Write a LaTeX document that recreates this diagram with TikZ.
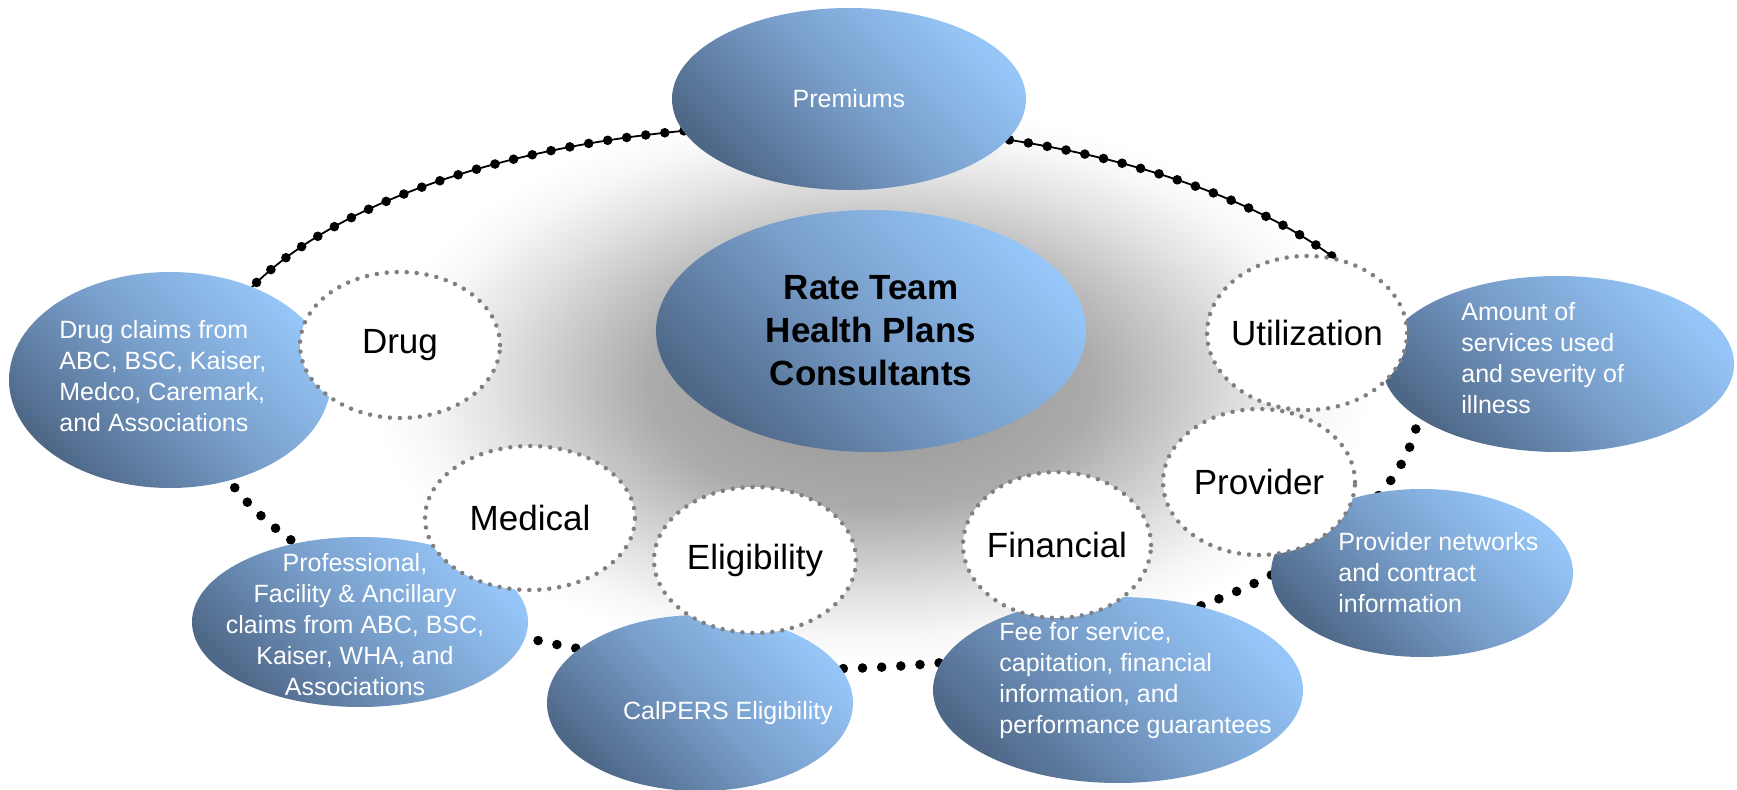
\documentclass[tikz,border=0pt]{standalone}
\usepackage{fontspec}
\setmainfont{Liberation Sans}
\usetikzlibrary{shapes.geometric}

\definecolor{skyL}{RGB}{150,198,248}
\definecolor{skyM}{RGB}{120,158,202}
\definecolor{slateD}{RGB}{78,103,135}
\definecolor{dotgray}{RGB}{128,128,128}
\pgfdeclareradialshading{halo}{\pgfpoint{0bp}{0bp}}{color(0bp)=(black!42); color(11bp)=(black!33); color(15bp)=(black!22); color(19bp)=(black!11); color(22.5bp)=(black!3); color(25bp)=(white); color(50bp)=(white)}

\begin{document}
\begin{tikzpicture}[x=0.5pt,y=-0.5pt,
  blob/.style={ellipse,inner sep=0pt,top color=skyL,bottom color=slateD,middle color=skyM,shading angle=-45},
  topic/.style={ellipse,inner sep=-4pt,fill=white,draw=dotgray,line width=2.25pt,dash pattern=on 0pt off 5pt,line cap=round,font=\fontsize{17.5}{21}\selectfont},
  note/.style={text=white,inner sep=0pt,font=\fontsize{12.5}{15.5}\selectfont}]
\path[use as bounding box,fill=white] (0,0) rectangle (1737,790);
\shade[shading=halo] (871,385) ellipse [x radius=250pt,y radius=140pt];
\coordinate (ring) at (810,397);
\draw[line width=0.9pt,yshift=-2.5pt] (ring) ++(158:305pt and 136pt) arc [start angle=158,end angle=30,x radius=305pt,y radius=136pt];
\draw[line width=4.8pt,dash pattern=on 0pt off 9.6pt,line cap=round] (ring) ellipse [x radius=305pt,y radius=136pt];
\node[blob,minimum width=215pt,minimum height=121pt,align=center,font=\fontsize{17.5}{21.5}\selectfont\bfseries] (core) at (871,331) {Rate Team\\Health Plans\\Consultants};
\node[blob,note,minimum width=177pt,minimum height=91pt] (premiums) at (849,99) {Premiums};
\node[blob,minimum width=161pt,minimum height=108pt] (drugclaims) at (170,380) {};
\node[blob,minimum width=168pt,minimum height=85pt] (profclaims) at (360,622) {};
\node[blob,minimum width=153pt,minimum height=88pt] (calpers) at (700,703) {};
\node[blob,minimum width=185pt,minimum height=93pt] (fees) at (1118,690) {};
\node[blob,minimum width=151pt,minimum height=84pt] (networks) at (1422,573) {};
\node[blob,minimum width=176pt,minimum height=88pt] (amount) at (1558,364) {};
\node[note,align=left,anchor=west] (drugtxt) at (59,376) {Drug claims from\\ABC, BSC, Kaiser,\\Medco, Caremark,\\and Associations};
\node[note,align=center] (proftxt) at (355,625) {Professional,\\Facility \& Ancillary\\claims from ABC, BSC,\\Kaiser, WHA, and\\Associations};
\node[note] (calperstxt) at (728,713) {CalPERS Eligibility};
\node[note,align=left,anchor=west] (feetxt) at (999,681) {Fee for service,\\capitation, financial\\information, and\\performance guarantees};
\node[note,align=left,anchor=west] (networktxt) at (1338,573) {Provider networks\\and contract\\information};
\node[note,align=left,anchor=west] (amounttxt) at (1461,358) {Amount of\\services used\\and severity of\\illness};
\node[topic,minimum width=100pt,minimum height=73pt] (drug) at (400,345) {Drug};
\node[topic,minimum width=105pt,minimum height=72pt] (medical) at (530,518) {Medical};
\node[topic,minimum width=101pt,minimum height=73pt] (eligibility) at (755,560) {Eligibility};
\node[topic,minimum width=94pt,minimum height=73pt] (financial) at (1057,545) {Financial};
\node[topic,minimum width=96pt,minimum height=73pt] (provider) at (1259,482) {Provider};
\node[topic,minimum width=100pt,minimum height=77pt] (utilization) at (1307,333) {Utilization};
\end{tikzpicture}
\end{document}
